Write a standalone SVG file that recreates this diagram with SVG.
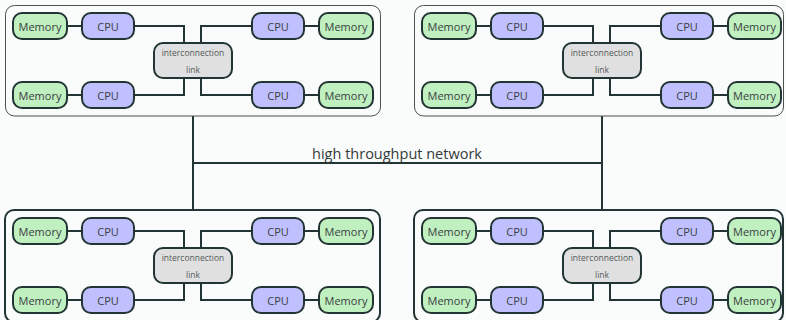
<svg xmlns="http://www.w3.org/2000/svg" xmlns:xlink="http://www.w3.org/1999/xlink" width="786" height="320" viewBox="0 0 786 320">
  <style>
    .bg { fill: #fafbfb; }
    .frame-top { fill: none; stroke: #4a4f4f; stroke-width: 1; }
    .frame-bot { fill: none; stroke: #233434; stroke-width: 2; }
    .mem { fill: #c0f0c0; stroke: #233434; stroke-width: 2; }
    .cpu { fill: #c0c0ff; stroke: #233434; stroke-width: 2; }
    .ic { fill: #e0e0e0; stroke: #233434; stroke-width: 2; }
    .wire { fill: none; stroke: #233434; stroke-width: 2; }
    .lbl { font-family: "Open Sans", "DejaVu Sans", sans-serif; font-size: 11px; fill: #3a4040; text-anchor: middle; dominant-baseline: central; }
    .ictxt { font-family: "Open Sans", "DejaVu Sans", sans-serif; font-size: 8.5px; fill: #555a5a; text-anchor: middle; }
    .net { font-family: "Open Sans", "DejaVu Sans", sans-serif; font-size: 14.5px; fill: #333a3a; text-anchor: middle; }
  </style>

  <rect class="bg" x="0" y="0" width="786" height="320"/>

  <!-- network backbone -->
  <g id="connectors">
    <path class="wire" d="M193 116 V210 M602 116 V210 M193 163 H602"/>
    <!-- cluster-internal wiring, repeated per cluster -->
    <g id="wires-a">
      <path class="wire" d="M67 26 H82 M304 26 H319 M67 95 H82 M304 95 H319"/>
      <path class="wire" d="M134 26 H184 V43 M252 26 H201 V43 M134 95 H184 V78 M252 95 H201 V78"/>
    </g>
    <g transform="translate(409,0)"><use xlink:href="#wires-a"/></g>
    <g transform="translate(0,205)"><use xlink:href="#wires-a"/></g>
    <g transform="translate(409,205)"><use xlink:href="#wires-a"/></g>
  </g>
  <text class="net" x="397" y="159">high throughput network</text>

  <!-- cluster 1 (top left) -->
  <g id="cluster1">
    <g id="c1-frame"><rect class="frame-top" x="5.5" y="5.5" width="375" height="110.5" rx="9"/></g>
    <g id="c1-mem1"><rect class="mem" x="13" y="13" width="54" height="26" rx="9"/><text class="lbl" x="40" y="26">Memory</text></g>
    <g id="c1-cpu1"><rect class="cpu" x="82" y="13" width="52" height="26" rx="9"/><text class="lbl" x="108" y="26">CPU</text></g>
    <g id="c1-cpu2"><rect class="cpu" x="252" y="13" width="52" height="26" rx="9"/><text class="lbl" x="278" y="26">CPU</text></g>
    <g id="c1-mem2"><rect class="mem" x="319" y="13" width="54" height="26" rx="9"/><text class="lbl" x="346" y="26">Memory</text></g>
    <g id="c1-mem3"><rect class="mem" x="13" y="82" width="54" height="26" rx="9"/><text class="lbl" x="40" y="95">Memory</text></g>
    <g id="c1-cpu3"><rect class="cpu" x="82" y="82" width="52" height="26" rx="9"/><text class="lbl" x="108" y="95">CPU</text></g>
    <g id="c1-cpu4"><rect class="cpu" x="252" y="82" width="52" height="26" rx="9"/><text class="lbl" x="278" y="95">CPU</text></g>
    <g id="c1-mem4"><rect class="mem" x="319" y="82" width="54" height="26" rx="9"/><text class="lbl" x="346" y="95">Memory</text></g>
    <g id="c1-link"><rect class="ic" x="154" y="43" width="78" height="35" rx="9"/><text class="ictxt" x="193" y="56">interconnection</text><text class="ictxt" x="193" y="73">link</text></g>
  </g>

  <!-- cluster 2 (top right) -->
  <g id="cluster2" transform="translate(409,0)">
    <g id="c2-frame"><rect class="frame-top" x="5.5" y="5.5" width="369" height="110.5" rx="9"/></g>
    <g id="c2-mem1"><rect class="mem" x="13" y="13" width="54" height="26" rx="9"/><text class="lbl" x="40" y="26">Memory</text></g>
    <g id="c2-cpu1"><rect class="cpu" x="82" y="13" width="52" height="26" rx="9"/><text class="lbl" x="108" y="26">CPU</text></g>
    <g id="c2-cpu2"><rect class="cpu" x="252" y="13" width="52" height="26" rx="9"/><text class="lbl" x="278" y="26">CPU</text></g>
    <g id="c2-mem2"><rect class="mem" x="319" y="13" width="53" height="26" rx="9"/><text class="lbl" x="345.5" y="26">Memory</text></g>
    <g id="c2-mem3"><rect class="mem" x="13" y="82" width="54" height="26" rx="9"/><text class="lbl" x="40" y="95">Memory</text></g>
    <g id="c2-cpu3"><rect class="cpu" x="82" y="82" width="52" height="26" rx="9"/><text class="lbl" x="108" y="95">CPU</text></g>
    <g id="c2-cpu4"><rect class="cpu" x="252" y="82" width="52" height="26" rx="9"/><text class="lbl" x="278" y="95">CPU</text></g>
    <g id="c2-mem4"><rect class="mem" x="319" y="82" width="53" height="26" rx="9"/><text class="lbl" x="345.5" y="95">Memory</text></g>
    <g id="c2-link"><rect class="ic" x="154" y="43" width="78" height="35" rx="9"/><text class="ictxt" x="193" y="56">interconnection</text><text class="ictxt" x="193" y="73">link</text></g>
  </g>

  <!-- cluster 3 (bottom left) -->
  <g id="cluster3" transform="translate(0,205)">
    <g id="c3-frame"><rect class="frame-bot" x="5" y="5" width="375" height="112" rx="9"/></g>
    <g id="c3-mem1"><rect class="mem" x="13" y="13" width="54" height="26" rx="9"/><text class="lbl" x="40" y="26">Memory</text></g>
    <g id="c3-cpu1"><rect class="cpu" x="82" y="13" width="52" height="26" rx="9"/><text class="lbl" x="108" y="26">CPU</text></g>
    <g id="c3-cpu2"><rect class="cpu" x="252" y="13" width="52" height="26" rx="9"/><text class="lbl" x="278" y="26">CPU</text></g>
    <g id="c3-mem2"><rect class="mem" x="319" y="13" width="54" height="26" rx="9"/><text class="lbl" x="346" y="26">Memory</text></g>
    <g id="c3-mem3"><rect class="mem" x="13" y="82" width="54" height="26" rx="9"/><text class="lbl" x="40" y="95">Memory</text></g>
    <g id="c3-cpu3"><rect class="cpu" x="82" y="82" width="52" height="26" rx="9"/><text class="lbl" x="108" y="95">CPU</text></g>
    <g id="c3-cpu4"><rect class="cpu" x="252" y="82" width="52" height="26" rx="9"/><text class="lbl" x="278" y="95">CPU</text></g>
    <g id="c3-mem4"><rect class="mem" x="319" y="82" width="54" height="26" rx="9"/><text class="lbl" x="346" y="95">Memory</text></g>
    <g id="c3-link"><rect class="ic" x="154" y="43" width="78" height="35" rx="9"/><text class="ictxt" x="193" y="56">interconnection</text><text class="ictxt" x="193" y="73">link</text></g>
  </g>

  <!-- cluster 4 (bottom right) -->
  <g id="cluster4" transform="translate(409,205)">
    <g id="c4-frame"><rect class="frame-bot" x="5" y="5" width="369" height="112" rx="9"/></g>
    <g id="c4-mem1"><rect class="mem" x="13" y="13" width="54" height="26" rx="9"/><text class="lbl" x="40" y="26">Memory</text></g>
    <g id="c4-cpu1"><rect class="cpu" x="82" y="13" width="52" height="26" rx="9"/><text class="lbl" x="108" y="26">CPU</text></g>
    <g id="c4-cpu2"><rect class="cpu" x="252" y="13" width="52" height="26" rx="9"/><text class="lbl" x="278" y="26">CPU</text></g>
    <g id="c4-mem2"><rect class="mem" x="319" y="13" width="53" height="26" rx="9"/><text class="lbl" x="345.5" y="26">Memory</text></g>
    <g id="c4-mem3"><rect class="mem" x="13" y="82" width="54" height="26" rx="9"/><text class="lbl" x="40" y="95">Memory</text></g>
    <g id="c4-cpu3"><rect class="cpu" x="82" y="82" width="52" height="26" rx="9"/><text class="lbl" x="108" y="95">CPU</text></g>
    <g id="c4-cpu4"><rect class="cpu" x="252" y="82" width="52" height="26" rx="9"/><text class="lbl" x="278" y="95">CPU</text></g>
    <g id="c4-mem4"><rect class="mem" x="319" y="82" width="53" height="26" rx="9"/><text class="lbl" x="345.5" y="95">Memory</text></g>
    <g id="c4-link"><rect class="ic" x="154" y="43" width="78" height="35" rx="9"/><text class="ictxt" x="193" y="56">interconnection</text><text class="ictxt" x="193" y="73">link</text></g>
  </g>
</svg>
